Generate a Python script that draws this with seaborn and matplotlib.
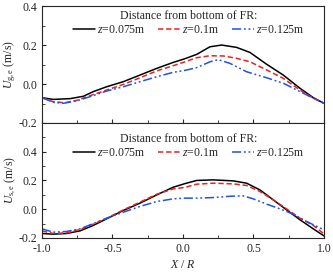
import numpy as np
import pandas as pd
import matplotlib
matplotlib.use("Agg")
import matplotlib.pyplot as plt
import seaborn as sns

# ---- data ----
# top panel: U_g,e
xg_075 = [-1.0, -0.92, -0.80, -0.707, -0.636, -0.541, -0.423, -0.305, -0.187, -0.069, 0.014,
          0.097, 0.191, 0.274, 0.38, 0.475, 0.594, 0.711, 0.83, 0.924, 1.0]
ug_075 = [-0.070, -0.079, -0.075, -0.063, -0.039, -0.014, 0.012, 0.046, 0.080, 0.111, 0.130,
          0.152, 0.191, 0.200, 0.188, 0.162, 0.101, 0.046, -0.022, -0.070, -0.099]

xg_100 = [-1.0, -0.92, -0.837, -0.754, -0.66, -0.541, -0.423, -0.305, -0.187, -0.069, 0.014,
          0.097, 0.191, 0.286, 0.38, 0.475, 0.594, 0.711, 0.83, 0.924, 1.0]
ug_100 = [-0.070, -0.091, -0.096, -0.084, -0.060, -0.031, -0.002, 0.032, 0.067, 0.094, 0.114,
          0.135, 0.145, 0.144, 0.132, 0.114, 0.072, 0.029, -0.031, -0.073, -0.099]

xg_125 = [-1.0, -0.92, -0.85, -0.754, -0.66, -0.541, -0.423, -0.305, -0.187, -0.069, 0.014,
          0.097, 0.191, 0.25, 0.333, 0.451, 0.594, 0.711, 0.83, 0.924, 1.0]
ug_125 = [-0.070, -0.094, -0.099, -0.087, -0.065, -0.036, -0.014, 0.012, 0.037, 0.060, 0.070,
          0.084, 0.114, 0.125, 0.106, 0.063, 0.032, 0.004, -0.039, -0.073, -0.099]

# bottom panel: U_s,e
xs_075 = [-1.0, -0.92, -0.825, -0.73, -0.636, -0.541, -0.423, -0.305, -0.187, -0.069, 0.014,
          0.097, 0.215, 0.357, 0.451, 0.546, 0.64, 0.735, 0.83, 0.924, 1.0]
us_075 = [-0.169, -0.174, -0.169, -0.151, -0.113, -0.067, -0.009, 0.042, 0.099, 0.153, 0.178,
          0.200, 0.204, 0.197, 0.181, 0.134, 0.065, -0.005, -0.074, -0.137, -0.186]

xs_100 = [-1.0, -0.92, -0.825, -0.73, -0.636, -0.541, -0.423, -0.305, -0.187, -0.069, 0.014,
          0.097, 0.215, 0.357, 0.451, 0.546, 0.64, 0.735, 0.83, 0.924, 1.0]
us_100 = [-0.151, -0.169, -0.165, -0.141, -0.104, -0.063, -0.005, 0.049, 0.104, 0.141, 0.152,
          0.174, 0.181, 0.176, 0.165, 0.123, 0.065, 0.002, -0.063, -0.113, -0.172]

xs_125 = [-1.0, -0.92, -0.825, -0.73, -0.636, -0.541, -0.423, -0.305, -0.187, -0.069, 0.014,
          0.097, 0.215, 0.333, 0.427, 0.498, 0.594, 0.688, 0.782, 0.877, 1.0]
us_125 = [-0.137, -0.160, -0.155, -0.137, -0.100, -0.063, -0.021, 0.019, 0.053, 0.072, 0.077,
          0.077, 0.081, 0.090, 0.093, 0.072, 0.035, 0.002, -0.035, -0.086, -0.144]

labels = ["$z$=0.075m", "$z$=0.1m", "$z$=0.125m"]
legend_title = "Distance from bottom of FR:"

def frame(xs, ys):
    rows = []
    for lab, xv, yv in zip(labels, xs, ys):
        for a, b in zip(xv, yv):
            rows.append({"X": a, "U": b, "z": lab})
    return pd.DataFrame(rows)

df_top = frame([xg_075, xg_100, xg_125], [ug_075, ug_100, ug_125])
df_bot = frame([xs_075, xs_100, xs_125], [us_075, us_100, us_125])

sns.set_style("ticks")
plt.rcParams["font.family"] = ["Liberation Serif", "DejaVu Serif"]
plt.rcParams["mathtext.fontset"] = "custom"
plt.rcParams["mathtext.rm"] = "Liberation Serif"
plt.rcParams["mathtext.it"] = "Liberation Serif:italic"
plt.rcParams["font.size"] = 8.5

colors = {labels[0]: "black", labels[1]: "#ee2020", labels[2]: "#2050ee"}
dashes = {labels[0]: "", labels[1]: (3.5, 1.8), labels[2]: (6, 1.8, 1.2, 1.8, 1.2, 1.8)}

fig = plt.figure(figsize=(3.33, 2.76), dpi=100)
gs = fig.add_gridspec(2, 1, height_ratios=[117, 115], hspace=0,
                      left=0.126, right=0.973, top=0.978, bottom=0.138)
ax1 = fig.add_subplot(gs[0])
ax2 = fig.add_subplot(gs[1], sharex=ax1)

for ax, df, yanc in ((ax1, df_top, 1.03), (ax2, df_bot, 0.975)):
    sns.lineplot(data=df, x="X", y="U", hue="z", style="z", palette=colors,
                 dashes=dashes, ax=ax, linewidth=1.1, sort=False)
    h, l = ax.get_legend_handles_labels()
    ax.legend(h, l, title=legend_title, ncol=3, frameon=False,
              loc="upper center", bbox_to_anchor=(0.52, yanc),
              handlelength=1.9, columnspacing=1.05, handletextpad=0.15,
              fontsize=8.5, title_fontsize=8.5, borderaxespad=0.2, labelspacing=0.2)
    ax.tick_params(direction="in", which="both", length=3)
    ax.tick_params(which="minor", length=2)
    for s in ax.spines.values():
        s.set_linewidth(0.8)

ax1.set_xlim(-1, 1)
ax1.set_ylim(-0.2, 0.4)
ax1.set_yticks([-0.2, 0.0, 0.2, 0.4])
ax1.set_yticks([-0.1, 0.1, 0.3], minor=True)
ax1.set_yticklabels(["-0.2", "0.0", "0.2", "0.4"])
ax1.tick_params(labelbottom=False)
ax1.set_xlabel("")
ax1.set_ylabel("$U_{\\rm g,e}$ (m/s)", fontsize=8.5)

ax2.set_ylim(-0.2, 0.6)
ax2.set_yticks([-0.2, 0.0, 0.2, 0.4])
ax2.set_yticks([-0.1, 0.1, 0.3, 0.5], minor=True)
ax2.set_yticklabels(["-0.2", "0.0", "0.2", "0.4"])
ax2.set_xticks([-1.0, -0.5, 0.0, 0.5, 1.0])
ax2.set_xticks([-0.75, -0.25, 0.25, 0.75], minor=True)
ax2.set_xticklabels(["-1.0", "-0.5", "0.0", "0.5", "1.0"])
ax2.set_xlabel("$X$ / $R$", labelpad=3)
ax2.set_ylabel("$U_{\\rm s,e}$ (m/s)", fontsize=8.5)

for ax in (ax1, ax2):
    ax.yaxis.set_label_coords(-0.085, 0.5)

fig.savefig("out.png", dpi=100)
